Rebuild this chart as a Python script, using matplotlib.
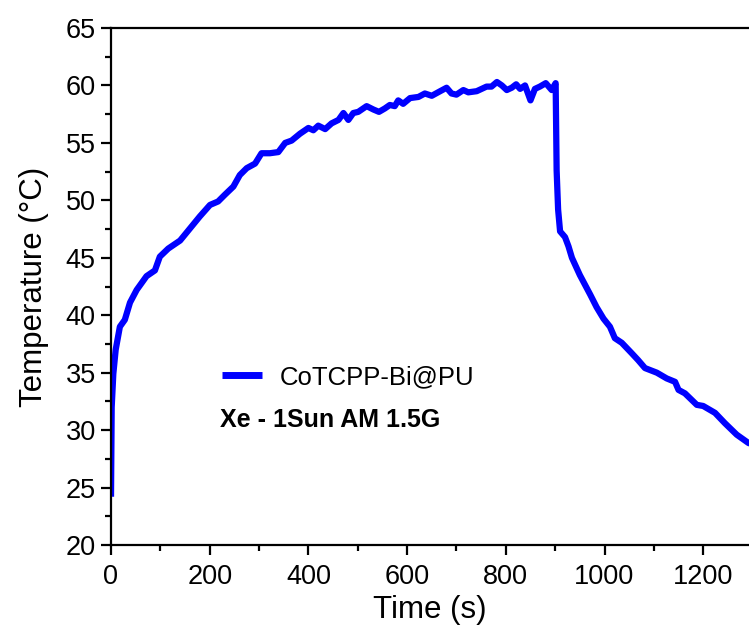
import matplotlib
matplotlib.use("Agg")
import matplotlib.pyplot as plt
from matplotlib.ticker import MultipleLocator

plt.rcParams['font.family'] = ['Liberation Sans', 'DejaVu Sans']

time_s = [0, 1.4, 4.7, 9.5, 18, 28, 38.5, 52, 72, 89, 99, 116, 140, 180, 200.6, 217, 231, 248,
          261, 275, 292, 305, 322, 339, 353, 366, 383, 400, 410, 420, 434, 447, 461, 471,
          481, 491, 501, 518, 532, 543, 555, 565, 575, 582, 592, 606, 623, 636, 650, 667,
          680, 690, 700, 714, 724, 741, 761, 771, 782, 792, 802, 812, 821, 829, 839, 850,
          859, 869, 881, 893, 901, 903, 906, 910, 920, 927, 934, 950, 971, 984, 998, 1011,
          1021, 1035, 1055, 1068, 1082, 1106, 1126, 1143, 1150, 1163, 1187, 1200, 1224,
          1244, 1268, 1291, 1300]
temp_c = [24.2, 32.0, 34.9, 37.0, 39.0, 39.6, 41.1, 42.2, 43.4, 43.9, 45.1, 45.8, 46.5, 48.6,
          49.6, 49.9, 50.5, 51.2, 52.2, 52.8, 53.2, 54.1, 54.1, 54.2, 55.0, 55.2, 55.8, 56.3,
          56.1, 56.5, 56.2, 56.7, 57.0, 57.6, 57.0, 57.6, 57.7, 58.2, 57.9, 57.7, 58.0, 58.3,
          58.2, 58.7, 58.4, 58.9, 59.0, 59.3, 59.1, 59.5, 59.8, 59.3, 59.2, 59.6, 59.4, 59.5,
          59.9, 59.9, 60.3, 60.0, 59.6, 59.8, 60.1, 59.7, 60.0, 58.7, 59.7, 59.9, 60.2, 59.6,
          60.2, 52.6, 49.2, 47.3, 46.8, 46.0, 45.0, 43.5, 41.8, 40.7, 39.7, 39.0, 38.0, 37.6,
          36.7, 36.1, 35.4, 35.0, 34.5, 34.2, 33.5, 33.2, 32.2, 32.1, 31.5, 30.6, 29.6, 28.9,
          28.7]

series_label = "CoTCPP-Bi@PU"
note_text = "Xe - 1Sun AM 1.5G"

W, H = 749, 628
fig = plt.figure(figsize=(W / 100, H / 100), dpi=100)
ax = fig.add_axes([111 / W, (H - 545) / H, (W - 111) / W, (545 - 28) / H])

ax.plot(time_s, temp_c, color='#0000FF', lw=4.5, label=series_label,
        solid_joinstyle='round', solid_capstyle='butt')

ax.set_xlim(0, (W - 111) / 0.4935)
ax.set_ylim(20, 65)
ax.xaxis.set_major_locator(MultipleLocator(200))
ax.xaxis.set_minor_locator(MultipleLocator(100))
ax.yaxis.set_major_locator(MultipleLocator(5))
ax.yaxis.set_minor_locator(MultipleLocator(2.5))

for s in ['left', 'bottom', 'top']:
    ax.spines[s].set_linewidth(1.6)
ax.spines['right'].set_visible(False)
ax.tick_params(which='major', direction='out', length=7, width=1.6, labelsize=19.5,
               top=False, right=False)
ax.tick_params(axis='x', which='major', pad=6.5)
ax.tick_params(axis='y', which='major', pad=4)
ax.tick_params(which='minor', direction='out', length=4, width=1.6, top=False, right=False)

ax.set_xlabel("Time (s)", fontsize=22.5, labelpad=4)
ax.set_ylabel("Temperature (°C)", fontsize=22.5, labelpad=12)

leg = ax.legend(loc='center left', bbox_to_anchor=(222 / W, 1 - 377 / H),
                bbox_transform=fig.transFigure, frameon=False, fontsize=18.5,
                handlelength=1.56, handletextpad=0.68, borderpad=0, borderaxespad=0)
for ln in leg.get_lines():
    ln.set_linewidth(5)

fig.text(220 / W, 1 - 420 / H, note_text, fontsize=18, fontweight='bold',
         ha='left', va='center')

fig.savefig("out.png", dpi=100)
